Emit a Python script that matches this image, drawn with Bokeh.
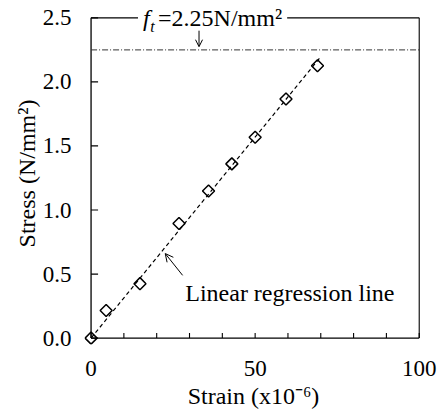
import numpy as np
from bokeh.plotting import figure
from bokeh.models import (Range1d, FixedTicker, NumeralTickFormatter,
                          Label, Arrow, OpenHead, ColumnDataSource)
from bokeh.embed import file_html
from bokeh.resources import INLINE

# ---- data ----
strain = [0.0, 4.6, 14.9, 26.8, 35.8, 42.9, 50.0, 59.4, 69.0]
stress = [0.0, 0.215, 0.425, 0.895, 1.148, 1.360, 1.568, 1.867, 2.126]
ft_value = 2.25
y_ticks = [0.0, 0.5, 1.0, 1.5, 2.0, 2.5]
x_ticks = [0, 50, 100]
x_minor_ticks = [0, 10, 20, 30, 40, 50, 60, 70, 80, 90, 100]

FONT = "Liberation Serif"
TICK_FS = "23px"
FS = "24px"

# regression line through origin
xs = np.array(strain)
ys = np.array(stress)
slope = float((xs * ys).sum() / (xs * xs).sum())
reg_x = [0.0, max(strain) + 1.0]
reg_y = [slope * v for v in reg_x]

x_min, x_max = x_ticks[0], x_ticks[-1]
y_min, y_max = y_ticks[0], y_ticks[-1]

# ranges extended a little beyond the boxed area so that the box edges,
# the marker at the origin and the label on the top edge are not clipped
p = figure(width=440, height=413,
           x_range=Range1d(x_min - 2.0, x_max + 1.0), y_range=Range1d(y_min - 0.05, y_max + 0.12),
           output_backend="svg", toolbar_location=None,
           min_border_left=84, min_border_right=18, min_border_top=2, min_border_bottom=69)
p.grid.visible = False
p.outline_line_color = None
p.background_fill_color = "white"
p.border_fill_color = "white"

# bottom axis: labels only (line and ticks drawn in the box below)
xa = p.xaxis[0]
xa.ticker = FixedTicker(ticks=x_ticks, minor_ticks=x_minor_ticks)
xa.axis_line_color = None
xa.major_tick_line_color = None
xa.minor_tick_line_color = None
xa.major_tick_in = 0
xa.major_tick_out = 0
xa.minor_tick_in = 0
xa.minor_tick_out = 0
xa.major_label_standoff = 16
xa.major_label_text_font = FONT
xa.major_label_text_font_size = TICK_FS
xa.major_label_text_color = "black"
xa.axis_label = "Strain (x10\u207b\u2076)"
xa.axis_label_text_font = FONT
xa.axis_label_text_font_size = FS
xa.axis_label_text_font_style = "normal"
xa.axis_label_text_color = "black"
xa.axis_label_standoff = 4

# left axis: labels only
ya = p.yaxis[0]
ya.ticker = FixedTicker(ticks=y_ticks, minor_ticks=[])
ya.formatter = NumeralTickFormatter(format="0.0")
ya.axis_line_color = None
ya.major_tick_line_color = None
ya.minor_tick_line_color = None
ya.major_tick_in = 0
ya.major_tick_out = 0
ya.minor_tick_in = 0
ya.minor_tick_out = 0
ya.major_label_standoff = 13
ya.major_label_text_font = FONT
ya.major_label_text_font_size = TICK_FS
ya.major_label_text_color = "black"
ya.axis_label = "Stress (N/mm\u00b2)"
ya.axis_label_text_font = FONT
ya.axis_label_text_font_size = FS
ya.axis_label_text_font_style = "normal"
ya.axis_label_text_color = "black"
ya.axis_label_standoff = 0

# box around the plotting area
p.line([x_min, x_max], [y_min, y_min], line_color="black", line_width=1.3)
p.line([x_min, x_min], [y_min, y_max], line_color="black", line_width=1.3)
p.line([x_min, x_max], [y_max, y_max], line_color="black", line_width=1.1)
p.line([x_max, x_max], [y_min, y_max], line_color="black", line_width=1.1)

# inward ticks
p.ray(x=[x_min] * len(y_ticks), y=y_ticks, length=7, length_units="screen", angle=0,
      line_color="black", line_width=1.2)
p.ray(x=x_minor_ticks, y=[y_min] * len(x_minor_ticks), length=5, length_units="screen",
      angle=np.pi / 2, line_color="black", line_width=1.1)

# tensile strength line (from 0 to 100)
p.line([x_min, x_max], [ft_value, ft_value], line_color="#333333",
       line_width=1, line_dash="6 2 1 2")

# regression line
p.line(reg_x, reg_y, line_color="black", line_width=1.2, line_dash="4 3")

# data markers (rotated squares)
src = ColumnDataSource(dict(x=strain, y=stress))
p.scatter("x", "y", source=src, marker="square", size=8.5, angle=np.pi / 4,
          line_color="black", line_width=1.5, fill_color=None)

# f_t label with white background breaking the top edge
lab_f = Label(x=14.3, y=y_max, text="f", text_font=FONT, text_font_size=FS,
              text_font_style="italic", text_baseline="middle", text_color="black",
              background_fill_color="white", padding=5)
lab_eq = Label(x=18.9, y=y_max, text="=2.25N/mm\u00b2", text_font=FONT, text_font_size=FS,
               text_baseline="middle", text_color="black",
               background_fill_color="white", padding=5)
lab_t = Label(x=18.0, y=2.43, text="t", text_font=FONT, text_font_size="16px",
              text_font_style="italic", text_baseline="middle", text_color="black")
for lab in (lab_f, lab_eq, lab_t):
    p.add_layout(lab)

p.add_layout(Arrow(end=OpenHead(size=7, line_width=1, line_color="black"),
                   x_start=32.9, y_start=2.40, x_end=32.9, y_end=2.275,
                   line_width=1, line_color="black"))

# regression line label and arrow
p.add_layout(Label(x=28.7, y=0.35, text="Linear regression line", text_font=FONT,
                   text_font_size=FS, text_baseline="middle", text_color="black"))
p.add_layout(Arrow(end=OpenHead(size=8, line_width=1, line_color="black"),
                   x_start=27.9, y_start=0.49, x_end=22.6, y_end=0.66,
                   line_width=1, line_color="black"))

open("out.html", "w").write(file_html(p, INLINE))
